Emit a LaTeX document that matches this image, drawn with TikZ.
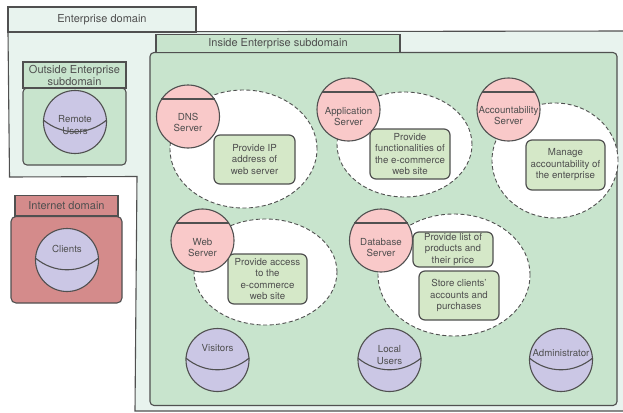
\documentclass[tikz,border=0pt]{standalone}
\usepackage{fontspec}
\setmainfont{TeX Gyre Heros}
\usetikzlibrary{shapes.geometric}

\definecolor{linegray}{HTML}{505050}
\definecolor{txtgray}{HTML}{4F4F4F}
\definecolor{entfill}{HTML}{E8F3EE}
\definecolor{subgreen}{HTML}{C8E4CD}
\definecolor{inetred}{HTML}{D48B8B}
\definecolor{serverpink}{HTML}{F9C9C9}
\definecolor{actorblue}{HTML}{CBC7E5}
\definecolor{taskgreen}{HTML}{D5E8C8}

\begin{document}
\begin{tikzpicture}[
        x=1pt, y=-1pt,
        every node/.style={font=\fontsize{9.7}{11.5}\selectfont, text=txtgray, align=center, inner sep=1pt},
        title/.style={draw=linegray, line width=1.1pt, font=\fontsize{11}{12}\selectfont},
        body/.style={draw=linegray, line width=1.1pt},
        role/.style={ellipse, draw=linegray, fill=white, line width=0.9pt, dash pattern=on 4pt off 2.5pt, inner sep=0pt},
        task/.style={draw=linegray, fill=taskgreen, line width=1.2pt, rounded corners=6pt, minimum width=80pt, minimum height=50pt},
        server/.style={circle, draw=linegray, fill=serverpink, line width=1.1pt, minimum size=63pt, inner sep=0pt},
        actor/.style={circle, draw=linegray, fill=actorblue, line width=1.1pt, minimum size=63pt, inner sep=0pt},
        split/.style={draw=linegray, line width=1.1pt}
      ]
      \useasboundingbox (0,0) rectangle (623,412);

      % enterprise domain
      \draw[body, fill=entfill] (8,32) -- (630,31) -- (630,411) -- (135,411) -- (137,176.5) -- (9.5,177) -- cycle;
      \node[title, fill=entfill, minimum width=188pt, minimum height=25pt] (ent-tab) at (102,19.5) {Enterprise domain};

      % inside enterprise subdomain
      \draw[body, fill=subgreen, rounded corners=4pt] (150,52.5) rectangle (617,405.5);
      \node[title, fill=subgreen, minimum width=244pt, minimum height=18pt] (in-tab) at (278,43.5) {Inside Enterprise subdomain};

      % outside enterprise subdomain
      \draw[body, fill=subgreen, rounded corners=4pt] (23,88) rectangle (126,165);
      \node[title, fill=subgreen, minimum width=103pt, minimum height=26pt] (out-tab) at (74.5,75) {Outside Enterprise\\subdomain};

      % internet domain
      \draw[body, fill=inetred, rounded corners=5pt] (11,216.5) rectangle (122,303);
      \node[title, fill=inetred, minimum width=103pt, minimum height=20.5pt] (inet-tab) at (66.5,205.75) {Internet domain};

      % roles
      \node[role, minimum width=147pt, minimum height=118pt] (dns-role) at (243.5,149) {};
      \node[role, minimum width=135pt, minimum height=105pt] (app-role) at (404.5,144.5) {};
      \node[role, minimum width=126pt, minimum height=115pt] (acc-role) at (555,160.5) {};
      \node[role, minimum width=143pt, minimum height=106pt] (web-role) at (265.5,272) {};
      \node[role, minimum width=152pt, minimum height=122pt] (db-role) at (454,275) {};

      % tasks
      \node[task, minimum width=81pt, minimum height=49pt] (dns-task) at (254.5,159.5) {Provide IP\\address of\\web server};
      \node[task] (app-task) at (410,154) {Provide\\functionalities of\\the e-commerce\\web site};
      \node[task, minimum width=79pt] (acc-task) at (565.5,165) {Manage\\accountability of\\the enterprise};
      \node[task, minimum width=79pt] (web-task) at (267.5,279) {Provide access\\to the\\e-commerce\\web site};
      \node[task, minimum height=35pt] (db-task1) at (453,249.5) {Provide list of\\products and\\their price};
      \node[task, minimum height=49pt] (db-task2) at (459,295.5) {Store clients'\\accounts and\\purchases};

      % servers
      \node[server] (dns) at (188,116.5) {};
      \node[server] (app) at (348.5,109.5) {};
      \node[server] (acc) at (508.5,109.5) {};
      \node[server] (web) at (202.5,240.5) {};
      \node[server] (db) at (381,240.5) {};
      \foreach \s in {dns, app, acc, web, db}
        \draw[split] (\s.147) -- (\s.33);
      \node (dns-txt) at ([yshift=-6pt]dns) {DNS\\Server};
      \node (app-txt) at ([yshift=-7pt]app) {Application\\Server};
      \node (acc-txt) at ([yshift=-6pt]acc) {Accountability\\Server};
      \node (web-txt) at ([yshift=-7pt]web) {Web\\Server};
      \node (db-txt) at ([yshift=-7pt]db) {Database\\Server};

      % actors
      \node[actor] (remote) at (75,122) {};
      \node[actor] (clients) at (67,260) {};
      \node[actor] (visitors) at (217.5,360) {};
      \node[actor] (local) at (389.5,360) {};
      \node[actor] (admin) at (561,360) {};
      \foreach \a in {remote, clients, visitors, local, admin}
        \draw[split] (\a.176) to[bend right=40] (\a.4);
      \node (remote-txt) at ([yshift=-3pt]remote) {Remote\\Users};
      \node (clients-txt) at ([yshift=11pt]clients) {Clients};
      \node (visitors-txt) at ([yshift=12pt]visitors) {Visitors};
      \node (local-txt) at ([yshift=5pt]local) {Local\\Users};
      \node (admin-txt) at ([yshift=7pt]admin) {Administrator};

      \end{tikzpicture}
\end{document}
